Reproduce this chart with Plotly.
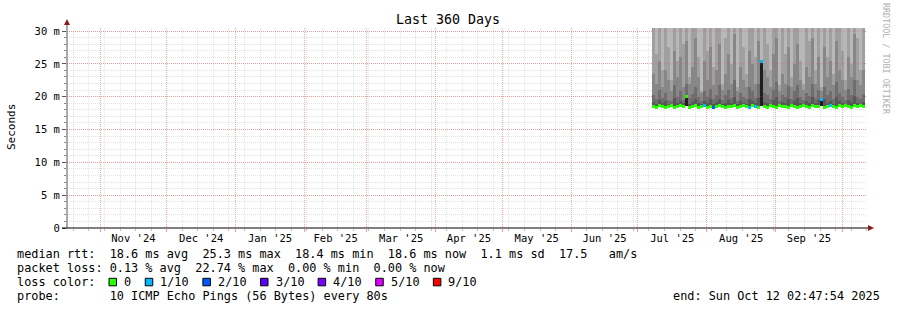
import plotly.graph_objects as go
import pandas as pd

# ---------------- data ----------------
RANGE_START = "2024-10-17 02:47:54"
RANGE_END = "2025-10-12 02:47:54"
DATA_START = "2025-07-07 08:50:00"
COL_HOURS = 32.4  # each smoke column = 1.35 days

# median rtt per column (ms)
median = [18.5, 18.4, 18.6, 18.5, 18.4, 18.5, 18.6, 18.4, 18.5, 18.6,
          18.5, 20.0, 18.4, 18.5, 18.6, 18.4, 18.5, 18.6, 18.4, 18.5,
          18.4, 18.5, 18.7, 18.5, 18.4, 18.5, 18.5, 18.6, 18.4, 18.5,
          18.6, 18.5, 18.4, 18.6, 18.5, 18.4, 25.3, 18.5, 18.4, 18.6,
          18.5, 18.4, 18.6, 18.5, 18.5, 18.4, 18.6, 18.5, 18.4, 18.5,
          18.6, 18.5, 18.4, 18.6, 18.5, 18.5, 19.5, 18.4, 18.5, 18.6,
          18.5, 18.4, 18.6, 18.5, 18.7, 18.5, 18.4, 18.6, 18.5, 18.6, 18.5]

# loss class per column (index into loss colors)
loss = [0, 0, 0, 0, 0, 0, 0, 0, 0, 0,
        0, 0, 0, 0, 0, 0, 0, 1, 0, 0,
        2, 0, 0, 0, 0, 0, 0, 0, 0, 0,
        0, 0, 1, 0, 1, 0, 1, 0, 0, 0,
        0, 0, 0, 0, 0, 0, 0, 0, 0, 0,
        0, 0, 0, 0, 0, 0, 1, 0, 0, 1,
        0, 0, 0, 0, 0, 0, 0, 0, 0, 0, 0]

# light upper smoke streaks: lower edge (ms); 31 = no streak
streak_low = [31, 26.5, 31, 24.0, 31, 27.5, 22.5, 31, 25.5, 31,
              28.0, 31, 23.0, 31, 31, 26.0, 20.8, 31, 27.0, 31,
              24.5, 31, 31, 22.0, 29.0, 31, 25.0, 31, 21.5, 31,
              27.5, 23.5, 31, 31, 26.0, 31, 22.5, 31, 28.0, 24.0,
              31, 31, 21.8, 31, 26.5, 31, 23.0, 31, 31, 25.5,
              22.0, 31, 28.5, 31, 24.0, 31, 21.5, 31, 26.0, 31,
              23.5, 31, 31, 27.0, 22.5, 31, 25.0, 31, 29.0, 24.0, 31]

# medium smoke top (ms)
mid_top = [23.5, 22.0, 25.5, 21.5, 24.0, 22.5, 20.8, 27.0, 23.0, 26.0,
           21.5, 28.5, 22.0, 24.5, 29.0, 23.0, 20.5, 25.5, 22.5, 27.5,
           21.8, 24.0, 28.0, 21.0, 23.5, 26.5, 22.0, 29.5, 20.8, 24.5,
           22.5, 21.5, 27.0, 25.0, 22.0, 28.5, 21.0, 24.0, 23.0, 21.5,
           26.5, 29.0, 20.8, 23.5, 22.0, 27.5, 21.5, 25.0, 28.0, 22.5,
           21.0, 24.5, 23.0, 29.0, 22.0, 26.0, 20.8, 27.5, 23.0, 25.5,
           21.8, 28.5, 24.0, 22.5, 21.0, 26.0, 23.0, 29.5, 22.5, 21.8, 24.0]

# dark smoke top (ms)
dark_top = [20.2, 19.6, 21.0, 19.8, 20.5, 19.5, 19.4, 21.8, 20.0, 20.8,
            19.5, 22.0, 19.8, 20.4, 21.5, 20.0, 19.3, 20.8, 19.9, 21.2,
            19.6, 20.3, 21.8, 19.5, 20.2, 21.0, 19.8, 22.5, 19.4, 20.6,
            20.0, 19.6, 21.5, 20.8, 19.8, 22.0, 19.5, 20.5, 20.2, 19.6,
            21.0, 22.3, 19.4, 20.3, 19.9, 21.6, 19.7, 20.8, 21.8, 20.0,
            19.5, 20.6, 20.1, 22.0, 19.8, 21.0, 19.4, 21.5, 20.2, 20.9,
            19.7, 22.2, 20.5, 20.0, 19.5, 21.2, 20.3, 22.6, 20.0, 19.7, 20.4]

# darkest smoke top (ms)
darkest_top = [19.2, 18.9, 19.5, 19.0, 19.3, 18.9, 18.9, 19.8, 19.1, 19.4,
               19.0, 20.0, 18.9, 19.2, 19.6, 19.0, 18.9, 19.4, 19.0, 19.6,
               18.9, 19.2, 19.7, 18.9, 19.1, 19.5, 19.0, 19.9, 18.9, 19.3,
               19.1, 18.9, 19.6, 19.4, 19.0, 19.8, 18.9, 19.2, 19.1, 18.9,
               19.5, 19.9, 18.9, 19.2, 19.0, 19.7, 18.9, 19.4, 19.8, 19.1,
               18.9, 19.3, 19.1, 19.9, 19.0, 19.5, 19.4, 19.6, 19.1, 19.4,
               18.9, 19.9, 19.3, 19.0, 18.9, 19.5, 19.2, 20.1, 19.0, 18.9, 19.2]

# near-black core (ms); 0 = none
core_top = [0, 0, 0, 0, 0, 0, 0, 0, 0, 0,
            0, 20.0, 0, 0, 0, 0, 0, 0, 0, 0,
            0, 0, 0, 0, 0, 0, 0, 0, 0, 0,
            0, 0, 0, 0, 0, 0, 25.3, 0, 0, 0,
            0, 0, 0, 0, 0, 0, 0, 0, 0, 0,
            0, 0, 0, 0, 0, 0, 19.5, 0, 0, 0,
            0, 0, 0, 0, 0, 0, 0, 0, 0, 0, 0]

y_tickvals = [0, 5, 10, 15, 20, 25, 30]
y_ticktext = ["0", "5 m", "10 m", "15 m", "20 m", "25 m", "30 m"]

loss_labels = ["0", "1/10", "2/10", "3/10", "4/10", "5/10", "9/10"]
loss_colors = ["#26ff00", "#00b8ff", "#0059ff", "#5e00ff", "#7e00ff", "#dd00ff", "#ff0000"]

legend_rtt = "median rtt:  18.6 ms avg  25.3 ms max  18.4 ms min  18.6 ms now  1.1 ms sd  17.5   am/s"
legend_loss = "packet loss: 0.13 % avg  22.74 % max  0.00 % min  0.00 % now"
legend_probe = "probe:       10 ICMP Echo Pings (56 Bytes) every 80s"
legend_end = "end: Sun Oct 12 02:47:54 2025"
title_text = "Last 360 Days"

# ---------------- geometry helpers ----------------
W, H = 897, 310
ML, MR, MT, MB = 67, 30, 28, 82
PW, PH = W - ML - MR, H - MT - MB
Y_MAX = 30.457
FONT = "DejaVu Sans Mono"
CW = 7.12  # char advance of legend font


def px(xp):
    return (xp - ML) / PW


def py(yp):
    return (H - MB - yp) / PH


def nb(s):
    return s.replace(" ", "\u00a0")


n = len(median)
col_w = pd.Timedelta(hours=COL_HOURS)
t0 = pd.Timestamp(DATA_START)
centers = [t0 + col_w * (i + 0.5) for i in range(n)]
width_ms = col_w.total_seconds() * 1000
data_end = t0 + col_w * n

floor = [min(m, 18.6) for m in median]
smoke_floor = min(median)

fig = go.Figure()


def add_layer(bases, tops, color):
    h = [max(t - b, 0) for b, t in zip(bases, tops)]
    fig.add_trace(go.Bar(x=centers, y=h, base=bases, width=width_ms,
                         marker=dict(color=color, line=dict(width=0)),
                         showlegend=False, hoverinfo="skip"))


add_layer(floor, [31] * n, "#a0a0a0")
add_layer(streak_low, [31] * n, "#b8b8b8")
add_layer(floor, mid_top, "#878787")
add_layer(floor, dark_top, "#6e6e6e")
add_layer(floor, darkest_top, "#575757")
add_layer(floor, core_top, "#1e1e1e")

# median line, coloured by loss
fig.add_trace(go.Bar(x=centers, y=[0.45] * n, base=[m - 0.22 for m in median],
                     width=width_ms,
                     marker=dict(color=[loss_colors[k] for k in loss], line=dict(width=0)),
                     showlegend=False, hoverinfo="skip"))

# ---------------- shapes ----------------
shapes = []
red_grid = "rgba(240,100,100,0.55)"
red_over = "rgba(210,90,90,0.35)"
# major grid re-drawn over the smoke only
for v in y_tickvals[1:]:
    if v > smoke_floor:
        shapes.append(dict(type="line", xref="x", yref="y", x0=t0, x1=data_end, y0=v, y1=v,
                           line=dict(color=red_over, width=1, dash="1px,1px"), layer="above"))
for d in pd.date_range("2024-11-01", "2025-10-01", freq="MS"):
    if t0 <= d <= data_end:
        shapes.append(dict(type="line", xref="x", yref="y", x0=d, x1=d, y0=smoke_floor, y1=Y_MAX,
                           line=dict(color=red_over, width=1, dash="1px,1px"), layer="above"))

shapes.append(dict(type="line", xref="paper", yref="paper", x0=0, x1=0, y0=0, y1=py(23),
                   line=dict(color="#555555", width=1)))
shapes.append(dict(type="line", xref="paper", yref="paper", x0=px(62), x1=px(869), y0=0, y1=0,
                   line=dict(color="#000000", width=1)))
arrow = "#8b1a1a"
shapes.append(dict(type="path", xref="paper", yref="paper",
                   path=f"M {px(67)} {py(19)} L {px(64)} {py(25)} L {px(70)} {py(25)} Z",
                   fillcolor=arrow, line=dict(width=0)))
shapes.append(dict(type="path", xref="paper", yref="paper",
                   path=f"M {px(874)} {py(228)} L {px(868)} {py(225)} L {px(868)} {py(231)} Z",
                   fillcolor=arrow, line=dict(width=0)))

# ---------------- annotations ----------------
ann = []
ann.append(dict(text=nb(title_text), xref="paper", yref="paper", x=px(448), y=py(19),
                xanchor="center", yanchor="middle", showarrow=False,
                font=dict(family=FONT, size=13.3, color="#000")))
ann.append(dict(text="Seconds", xref="paper", yref="paper", x=px(11), y=py(127),
                xanchor="center", yanchor="middle", showarrow=False, textangle=-90,
                font=dict(family=FONT, size=11, color="#000")))
ann.append(dict(text=nb("RRDTOOL / TOBI OETIKER"), xref="paper", yref="paper", x=px(886), y=py(59),
                xanchor="center", yanchor="middle", showarrow=False, textangle=90,
                font=dict(family=FONT, size=8.4, color="#b0b0b0")))

LX = 14.5
rows_y = [254, 268, 282, 296]
for txt, yy in [(legend_rtt, rows_y[0]), (legend_loss, rows_y[1]),
                ("loss color:", rows_y[2]), (legend_probe, rows_y[3])]:
    ann.append(dict(text=nb(txt), xref="paper", yref="paper", x=px(LX), y=py(yy),
                    xanchor="left", yanchor="middle", showarrow=False,
                    font=dict(family=FONT, size=11.85, color="#000")))
ann.append(dict(text=nb(legend_end), xref="paper", yref="paper", x=px(882), y=py(rows_y[3]),
                xanchor="right", yanchor="middle", showarrow=False,
                font=dict(family=FONT, size=11.85, color="#000")))

bx = 109
for lab, colr in zip(loss_labels, loss_colors):
    shapes.append(dict(type="rect", xref="paper", yref="paper",
                       x0=px(bx), x1=px(bx + 7.5), y0=py(rows_y[2] + 3.8), y1=py(rows_y[2] - 3.7),
                       fillcolor=colr, line=dict(color="#000", width=1)))
    tx = bx + 14.5
    ann.append(dict(text=nb(lab), xref="paper", yref="paper", x=px(tx - 1.5), y=py(rows_y[2]),
                    xanchor="left", yanchor="middle", showarrow=False,
                    font=dict(family=FONT, size=11.85, color="#000")))
    bx = tx + (len(lab) + 2) * CW + 0.4

grid_gray = "rgba(0,0,0,0.11)"
fig.update_layout(
    width=W, height=H, autosize=False,
    margin=dict(l=ML, r=MR, t=MT, b=MB, pad=0),
    paper_bgcolor="#ffffff", plot_bgcolor="#ffffff",
    barmode="overlay", bargap=0, showlegend=False,
    shapes=shapes, annotations=ann,
    xaxis=dict(type="date", range=[RANGE_START, RANGE_END],
               dtick="M1", tick0="2024-11-01", ticklabelmode="period",
               tickformat="%b '%y", showgrid=True, gridcolor=red_grid, griddash="1px,1px",
               gridwidth=1, zeroline=False, showline=False,
               ticks="outside", ticklen=3, tickcolor="rgba(230,60,60,0.5)",
               ticklabelstandoff=-3,
               tickfont=dict(family=FONT, size=10.5, color="#000"),
               minor=dict(dtick=7 * 86400000, tick0="2024-10-20", showgrid=True,
                          gridcolor=grid_gray, griddash="1px,1px", gridwidth=1,
                          ticks="outside", ticklen=2, tickcolor="#bbbbbb"),
               fixedrange=True),
    yaxis=dict(range=[0, Y_MAX], tickvals=y_tickvals, ticktext=y_ticktext,
               showgrid=True, gridcolor=red_grid, griddash="1px,1px", gridwidth=1,
               zeroline=False, showline=False,
               ticks="outside", ticklen=4, tickcolor="#555555",
               tickfont=dict(family=FONT, size=10.5, color="#000"),
               minor=dict(dtick=1, showgrid=True, gridcolor=grid_gray, griddash="1px,1px",
                          gridwidth=1, ticks="outside", ticklen=2, tickcolor="#888888"),
               fixedrange=True),
)

fig.write_html("out.html")
